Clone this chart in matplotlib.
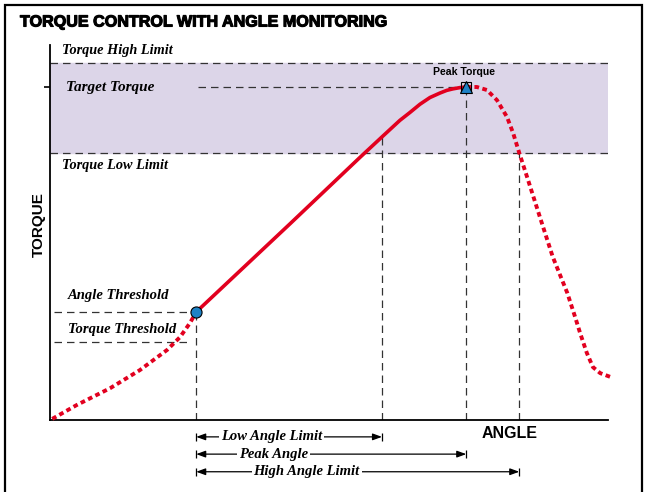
import matplotlib
matplotlib.use("Agg")
import matplotlib.pyplot as plt
import matplotlib.patheffects as pe
from matplotlib.patches import Rectangle


# ==========================================
# Data (angle in % of range, torque in % of range)
# ==========================================

rise_angle = [0.4, 4.8, 10.8, 16.1, 21.0, 23.3, 25.1, 26.2]
rise_torque = [0.3, 4.0, 8.5, 13.3, 18.7, 22.1, 25.9, 28.8]

ctrl_angle = [26.2, 43.0, 55.6, 59.5, 62.7, 64.5, 66.3, 68.1, 69.9,
              71.1, 72.2, 73.5, 74.6]
ctrl_torque = [28.8, 52.3, 70.1, 75.5, 79.9, 82.0, 84.2, 86.0, 87.2,
               87.9, 88.3, 88.65, 88.8]

fall_angle = [74.6, 76.5, 78.3, 80.1, 81.9, 83.0, 84.1, 85.5, 87.8,
              90.1, 92.7, 94.1, 95.0, 96.2, 97.3, 98.6, 100.4]
fall_torque = [88.8, 88.8, 88.0, 85.3, 80.8, 76.5, 71.2, 64.8, 54.1,
               43.5, 33.9, 27.5, 23.2, 17.9, 14.1, 12.5, 11.5]

torque_high = 95.2
target_torque = 88.8
torque_low = 71.2
angle_threshold = 28.8
torque_threshold = 20.8

threshold_angle = 26.2
low_angle_limit = 59.5
peak_angle = 74.6
high_angle_limit = 84.1
low_limit_torque = 75.5

RED = "#E2001F"
BLUE = "#1E82C6"
DASH = "#333333"
SERIF = dict(family="Liberation Serif", weight="bold", style="italic")


# ==========================================
# Figure
# ==========================================

fig = plt.figure(figsize=(6.47, 4.92), dpi=100)
ax = fig.add_axes([50 / 647, 72 / 492, 558 / 647, 375 / 492])
ax.set_xlim(0, 100)
ax.set_ylim(0, 100)

for side in ["top", "right"]:
    ax.spines[side].set_visible(False)
ax.spines["left"].set_linewidth(1.3)
ax.spines["bottom"].set_linewidth(1.3)
ax.set_xticks([])
ax.set_yticks([target_torque])
ax.set_yticklabels([])
ax.tick_params(axis="y", direction="out", length=4, width=1.2)

# outer frame
fig.patches.append(Rectangle((5 / 647, -0.05), 637 / 647, 1.04,
                             transform=fig.transFigure, fill=False,
                             lw=1.6, ec="black"))

fig.text(20 / 647, 1 - 22 / 492, "TORQUE CONTROL WITH ANGLE MONITORING",
         fontsize=11.6, fontweight="bold", family="Liberation Sans",
         va="center", ha="left",
         path_effects=[pe.withStroke(linewidth=0.8, foreground="black")])


# ==========================================
# Torque window
# ==========================================

ax.axhspan(torque_low, torque_high, color="#DCD5E8", zorder=0)

dash_kw = dict(color=DASH, lw=0.9, dashes=(6, 4))
ax.plot([0, 100], [torque_high, torque_high], **dash_kw)
ax.plot([0, 100], [torque_low, torque_low], **dash_kw)
ax.plot([26.5, 73.0], [target_torque, target_torque], **dash_kw)
ax.plot([0.8, 25.3], [angle_threshold, angle_threshold], **dash_kw)
ax.plot([0.8, 25.3], [torque_threshold, torque_threshold], **dash_kw)

ax.plot([threshold_angle, threshold_angle], [0, angle_threshold], **dash_kw)
ax.plot([low_angle_limit, low_angle_limit], [0, low_limit_torque], **dash_kw)
ax.plot([peak_angle, peak_angle], [0, target_torque], **dash_kw)
ax.plot([high_angle_limit, high_angle_limit], [0, torque_low], **dash_kw)

ax.text(2.2, 98.5, "Torque High Limit", fontsize=10.3, va="center", **SERIF)
ax.text(2.9, target_torque, "Target Torque", fontsize=11, va="center", **SERIF)
ax.text(2.2, 68.0, "Torque Low Limit", fontsize=10.3, va="center", **SERIF)
ax.text(3.2, 33.3, "Angle Threshold", fontsize=10.5, va="center", **SERIF)
ax.text(3.2, 24.0, "Torque Threshold", fontsize=10.5, va="center", **SERIF)


# ==========================================
# Torque curve
# ==========================================

ax.plot(rise_angle, rise_torque, color=RED, lw=2.8, dashes=(1.2, 0.9),
        solid_capstyle="butt", clip_on=False, zorder=3)
ax.plot(ctrl_angle, ctrl_torque, color=RED, lw=2.6, zorder=4,
        solid_capstyle="round", solid_joinstyle="round")
ax.plot(fall_angle, fall_torque, color=RED, lw=2.8, dashes=(1.2, 0.9),
        clip_on=False, zorder=3)

ax.plot(threshold_angle, angle_threshold, "o", ms=8, mfc=BLUE,
        mec="black", mew=0.8, zorder=6)
ax.plot(peak_angle, target_torque, "s", ms=6.5, mfc="none",
        mec="black", mew=0.8, zorder=6)
ax.plot(peak_angle, target_torque, "^", ms=8.5, mfc=BLUE,
        mec="black", mew=0.8, zorder=7)
ax.text(peak_angle - 0.4, 92.7, "Peak Torque", fontsize=7.6, fontweight="bold",
        ha="center", va="center", family="Liberation Sans")


# ==========================================
# Axis titles
# ==========================================

fig.text(39 / 647, 1 - 225 / 492, "TORQUE", rotation=90, fontsize=11,
         fontweight="bold", family="Liberation Sans", ha="center", va="center")
fig.text(510 / 647, 1 - 434 / 492, "ANGLE", fontsize=11.5,
         fontweight="bold", family="Liberation Sans", ha="center", va="center")


# ==========================================
# Angle ranges below the axis
# ==========================================

ranges = [
    ("Low Angle Limit", low_angle_limit, -4.5, 39.7),
    ("Peak Angle", peak_angle, -9.1, 40.0),
    ("High Angle Limit", high_angle_limit, -13.8, 46.0),
]

for label, end, y, text_x in ranges:
    ax.annotate("", xy=(end, y), xytext=(threshold_angle, y),
                annotation_clip=False,
                arrowprops=dict(arrowstyle="<|-|>,head_length=0.55,head_width=0.2",
                                color="black", lw=0.9,
                                shrinkA=0, shrinkB=0))
    ax.plot([threshold_angle, end], [y, y], "|", color="black", ms=6,
            mew=0.9, clip_on=False)
    ax.text(text_x, y, label, fontsize=10.5, ha="center", va="center",
            bbox=dict(fc="white", ec="none", pad=1.5), zorder=5, **SERIF)

fig.savefig("out.png", dpi=100)
